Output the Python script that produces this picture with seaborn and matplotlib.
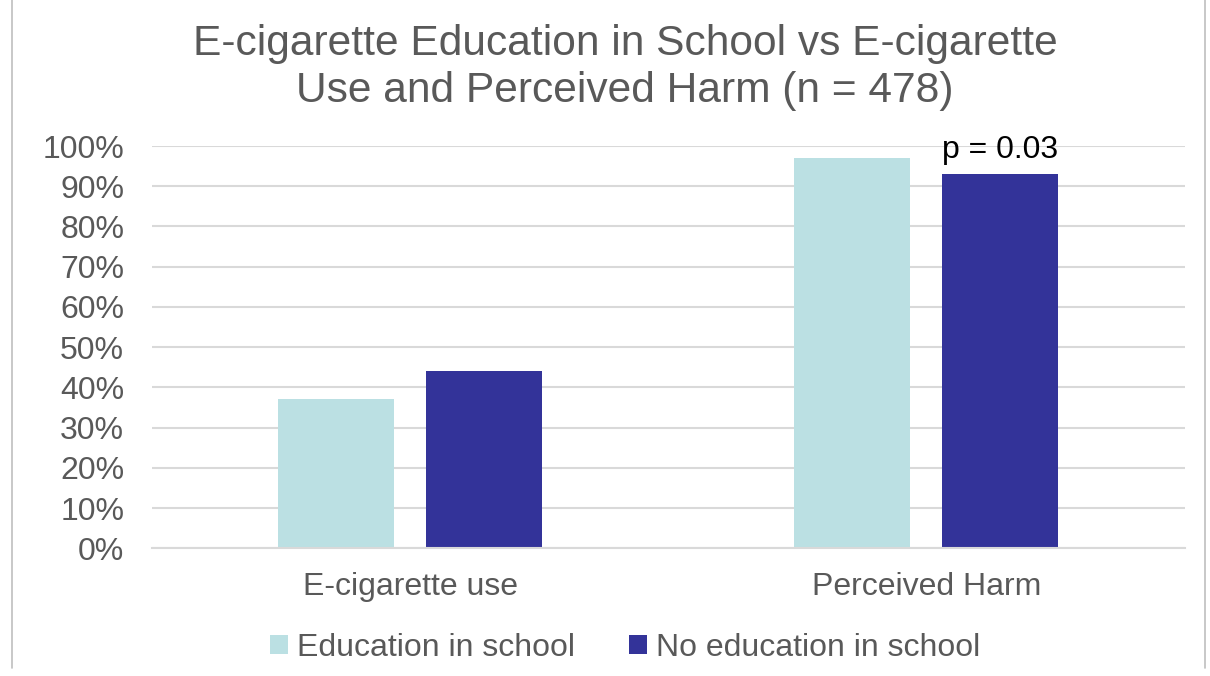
import matplotlib
matplotlib.use("Agg")
import matplotlib.pyplot as plt
from matplotlib.patches import Patch
from matplotlib.lines import Line2D
from matplotlib.ticker import PercentFormatter
import seaborn as sns
import pandas as pd

categories = ["E-cigarette use", "Perceived Harm"]
groups = ["Education in school", "No education in school"]
education_vals = [37, 97]
no_education_vals = [44, 93]
y_ticks = list(range(0, 101, 10))
p_label = "p = 0.03"
title = "E-cigarette Education in School vs E-cigarette\nUse and Perceived Harm (n = 478)"

colors = {"Education in school": "#BBE0E3", "No education in school": "#333399"}
grey = "#595959"
fs = 23

df = pd.DataFrame({
    "category": categories * 2,
    "group": [groups[0]] * len(categories) + [groups[1]] * len(categories),
    "value": education_vals + no_education_vals,
})

sns.set_theme(style="white")
plt.rcParams["font.family"] = ["Liberation Sans", "DejaVu Sans"]

fig = plt.figure(figsize=(12.1, 6.76), dpi=100)
ax = fig.add_axes([0.1256, 0.189, 0.979 - 0.1256, 0.784 - 0.189])

sns.barplot(data=df, x="category", y="value", hue="group", order=categories,
            hue_order=groups, palette=colors, width=0.573, gap=0.216,
            saturation=1, ax=ax, legend=False, linewidth=0)

ax.set_xlim(-0.5, 1.5)
ax.set_ylim(0, 100)
ax.set_yticks(y_ticks)
ax.yaxis.set_major_formatter(PercentFormatter(decimals=0))
ax.grid(axis="y", color="#D9D9D9", linewidth=1.5)
ax.set_axisbelow(True)
for s in ["top", "right", "left"]:
    ax.spines[s].set_visible(False)
ax.spines["bottom"].set_color("#D9D9D9")
ax.spines["bottom"].set_linewidth(1.5)
ax.tick_params(axis="both", length=0, labelsize=fs, colors=grey)
ax.tick_params(axis="y", pad=20)
ax.tick_params(axis="x", pad=17)
ax.set_xlabel("")
ax.set_ylabel("")

# significance label above the no-education bar for perceived harm
harm_bar = ax.containers[1][1]
bx = harm_bar.get_x() + harm_bar.get_width() / 2
ax.text(bx, no_education_vals[1] + 2.2, p_label, ha="center", va="bottom",
        fontsize=fs, color="black")

fig.text(0.5165, 0.9, title, ha="center", va="center", fontsize=30.6,
         color=grey, linespacing=1.2)

handles = [Patch(facecolor=colors[g], edgecolor="none", label=g) for g in groups]
fig.legend(handles=handles, loc="center", bbox_to_anchor=(0.5165, 0.042),
           ncol=2, frameon=False, fontsize=fs, handlelength=0.55,
           handleheight=0.55, handletextpad=0.28, columnspacing=1.7,
           labelcolor=grey)

# chart-area border on the left and right edges
for xf in (12 / 1210, 1205 / 1210):
    fig.add_artist(Line2D([xf, xf], [1 - 668 / 676, 1], transform=fig.transFigure,
                          color="#BFBFBF", linewidth=1.2))

fig.savefig("out.png", dpi=100, facecolor="white")
